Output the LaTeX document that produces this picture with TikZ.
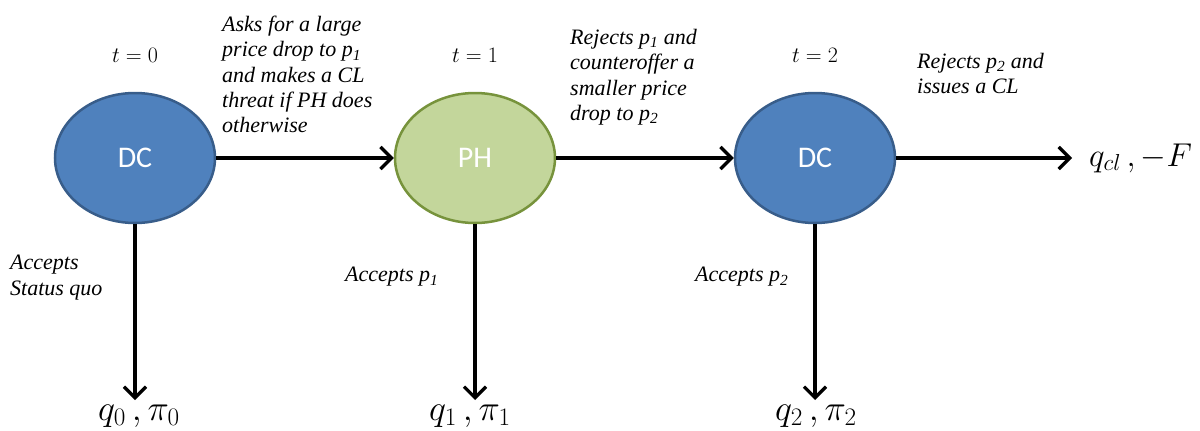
\documentclass[tikz,border=0pt]{standalone}
\usepackage{fix-cm}
\usepackage{fontspec}
\setmainfont{Liberation Serif}
\newfontfamily\labelfont{Carlito}
\usetikzlibrary{arrows.meta,shapes.geometric}
\definecolor{dcfill}{HTML}{4F81BD}
\definecolor{dcline}{HTML}{385D8A}
\definecolor{phfill}{HTML}{C3D69B}
\definecolor{phline}{HTML}{77933C}
\begin{document}
\begin{tikzpicture}[x=1pt,y=-1pt,
  player/.style={ellipse, minimum width=160pt, minimum height=130pt, line width=2.5pt, inner sep=0pt,
    font=\labelfont\fontsize{30}{32}\selectfont, text=white},
  dc/.style={player, draw=dcline, fill=dcfill},
  ph/.style={player, draw=phline, fill=phfill},
  move/.style={line width=3.2pt, -{Straight Barb[length=11pt,width=22pt,line width=3.2pt]}},
  note/.style={anchor=north west, align=left, inner sep=0pt, font=\itshape\fontsize{22}{25.3}\selectfont},
  timelbl/.style={inner sep=0pt, font=\fontsize{22}{24}\selectfont},
  payoff/.style={inner sep=0pt, anchor=base, font=\fontsize{36}{38}\selectfont}]
\useasboundingbox (0,0) rectangle (1200,431);
\node[dc] (dc1) at (135,158) {DC};
\node[ph] (ph) at (475,158) {PH};
\node[dc] (dc2) at (815,158) {DC};
\node[timelbl] (t0) at (135,55) {$t=0$};
\node[timelbl] (t1) at (475,55) {$t=1$};
\node[timelbl] (t2) at (815,55) {$t=2$};
\node[payoff] (o0) at (139,420) {$q_0\,,\pi_0$};
\node[payoff] (o1) at (470,420) {$q_1\,,\pi_1$};
\node[payoff] (o2) at (816,420) {$q_2\,,\pi_2$};
\node[inner sep=0pt, anchor=base west, font=\fontsize{33}{36}\selectfont] (ocl) at (1089,166) {$q_{cl}\,,-F$};
\coordinate (e0) at (135,400);
\coordinate (e1) at (475,400);
\coordinate (e2) at (815,400);
\coordinate (ecl) at (1072,158);
\draw[move] (dc1.east) -- (ph.west);
\draw[move] (ph.east) -- (dc2.west);
\draw[move] (dc2.east) -- (ecl);
\draw[move] (dc1.south) -- (e0);
\draw[move] (ph.south) -- (e1);
\draw[move] (dc2.south) -- (e2);
\node[note] (n1) at (222,16) {Asks for a large\\price drop to p\textsubscript{1}\\and makes a CL\\threat if PH does\\otherwise};
\node[note] (n2) at (570,29) {Rejects p\textsubscript{1} and\\counteroffer a\\smaller price\\drop to p\textsubscript{2}};
\node[note] (n3) at (917,53) {Rejects p\textsubscript{2} and\\issues a CL};
\node[note] (n4) at (10,255) {Accepts\\Status quo};
\node[note] (n5) at (345,267) {Accepts p\textsubscript{1}};
\node[note] (n6) at (695,267) {Accepts p\textsubscript{2}};
\end{tikzpicture}
\end{document}
